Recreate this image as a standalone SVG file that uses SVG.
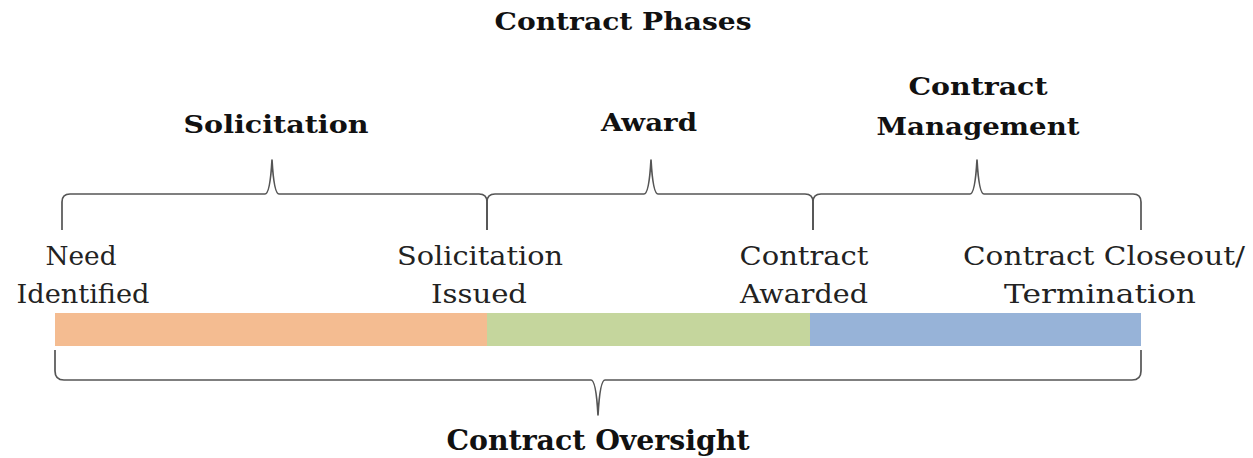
<svg xmlns="http://www.w3.org/2000/svg" width="1253" height="458" viewBox="0 0 1253 458">
  <style>
    .head { font-family: "DejaVu Serif", "Liberation Serif", serif; font-weight: bold; font-size: 25px; fill: #111; text-anchor: middle; }
    .lbl { font-family: "DejaVu Serif", "Liberation Serif", serif; font-size: 26px; fill: #222; text-anchor: middle; }
    .cond { font-family: "DejaVu Serif Condensed", "DejaVu Serif", serif; font-weight: bold; font-size: 27px; fill: #111; text-anchor: middle; }
    .brace { fill: none; stroke: #555; stroke-width: 1.7; stroke-linejoin: round; }
  </style>
  <rect width="1253" height="458" fill="#fff"/>

  <text class="head" x="623" y="30" textLength="257" lengthAdjust="spacingAndGlyphs">Contract Phases</text>

  <!-- timeline bar -->
  <g id="timeline">
    <rect x="55" y="313" width="432" height="33" fill="#f4bc91"/>
    <rect x="487" y="313" width="323" height="33" fill="#c5d69d"/>
    <rect x="810" y="313" width="331" height="33" fill="#97b3d8"/>
  </g>

  <!-- phase braces -->
  <g id="connectors">
    <path class="brace" d="M62,230 L62,202 Q62,194 70,194 L265,194 Q270,194 272,160 Q274,194 279,194 L479,194 Q487,194 487,202 L487,230"/>
    <path class="brace" d="M487,230 L487,202 Q487,194 495,194 L644,194 Q649,194 651,160 Q653,194 658,194 L805,194 Q813,194 813,202 L813,230"/>
    <path class="brace" d="M813,230 L813,202 Q813,194 821,194 L970,194 Q975,194 977,160 Q979,194 984,194 L1133,194 Q1141,194 1141,202 L1141,230"/>
    <path class="brace" d="M55,350 L55,371 Q55,380 64,380 L591,380 Q596,380 598,415 Q600,380 605,380 L1132,380 Q1141,380 1141,371 L1141,350"/>
  </g>

  <g id="phase-solicitation">
    <text class="head" x="276" y="133" textLength="185" lengthAdjust="spacingAndGlyphs">Solicitation</text>
  </g>
  <g id="phase-award">
    <text class="head" x="649" y="131" textLength="96" lengthAdjust="spacingAndGlyphs">Award</text>
  </g>
  <g id="phase-management">
    <text class="head" x="978" y="95" textLength="139" lengthAdjust="spacingAndGlyphs">Contract</text>
    <text class="head" x="978" y="135" textLength="203" lengthAdjust="spacingAndGlyphs">Management</text>
  </g>

  <g id="milestone-need">
    <text class="lbl" x="81" y="265" textLength="71" lengthAdjust="spacingAndGlyphs">Need</text>
    <text class="lbl" x="83" y="303" textLength="133" lengthAdjust="spacingAndGlyphs">Identified</text>
  </g>
  <g id="milestone-issued">
    <text class="lbl" x="480" y="265" textLength="166" lengthAdjust="spacingAndGlyphs">Solicitation</text>
    <text class="lbl" x="479" y="303" textLength="96" lengthAdjust="spacingAndGlyphs">Issued</text>
  </g>
  <g id="milestone-awarded">
    <text class="lbl" x="804" y="265" textLength="129" lengthAdjust="spacingAndGlyphs">Contract</text>
    <text class="lbl" x="804" y="303" textLength="128" lengthAdjust="spacingAndGlyphs">Awarded</text>
  </g>
  <g id="milestone-closeout">
    <text class="lbl" x="1104" y="265" textLength="282" lengthAdjust="spacingAndGlyphs">Contract Closeout/</text>
    <text class="lbl" x="1100" y="303" textLength="192" lengthAdjust="spacingAndGlyphs">Termination</text>
  </g>

  <g id="oversight">
    <text class="cond" x="598" y="450" textLength="303" lengthAdjust="spacingAndGlyphs">Contract Oversight</text>
  </g>
</svg>
